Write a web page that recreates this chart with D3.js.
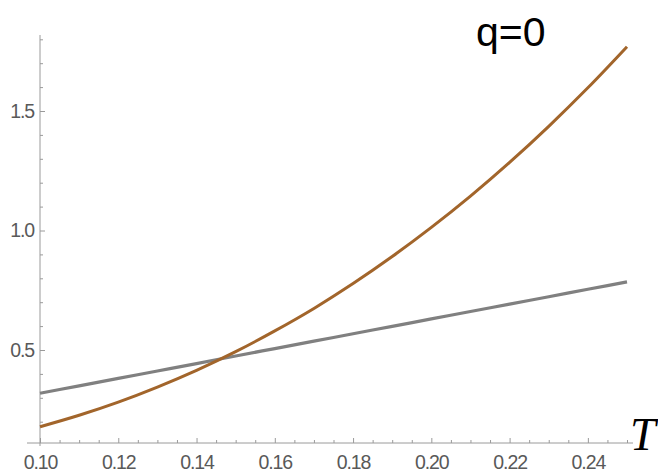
<!DOCTYPE html>
<html>
<head>
<meta charset="utf-8">
<script src="https://cdn.jsdelivr.net/npm/d3@7"></script>
<style>
  body { margin: 0; background: #fff; }
  svg { display: block; }
</style>
</head>
<body>
<svg id="chart"></svg>
<script>
// values
const tValues = [0.10, 0.11, 0.12, 0.13, 0.14, 0.15, 0.16, 0.17, 0.18, 0.19, 0.20, 0.21, 0.22, 0.23, 0.24, 0.25];
const grayValues = [0.319, 0.350, 0.381, 0.412, 0.443, 0.475, 0.506, 0.537, 0.568, 0.599, 0.630, 0.661, 0.692, 0.723, 0.754, 0.785];
const orangeValues = [0.179, 0.227, 0.282, 0.345, 0.415, 0.493, 0.580, 0.674, 0.778, 0.891, 1.013, 1.144, 1.285, 1.436, 1.597, 1.769];
const xTicks = [0.10, 0.12, 0.14, 0.16, 0.18, 0.20, 0.22, 0.24];
const yTicks = [0.5, 1.0, 1.5];
const title = 'q=0';
const xLabel = 'T';

const width = 658;
const height = 474;
const axisColor = '#9a9a9a';

const svg = d3.select('#chart')
  .attr('width', width)
  .attr('height', height);

//scales
const x = d3.scaleLinear().domain([0.10, 0.25]).range([40, 627]);
const y = d3.scaleLinear().domain([0.5, 1.5]).range([350, 111]);
const yBottom = 443;
const yTop = 35;

//minor ticks
const xMinor = d3.range(0.10, 0.2501, 0.005).filter(v => Math.abs(v * 50 - Math.round(v * 50)) > 1e-6);
const yMinor = d3.range(0.2, 1.81, 0.1).filter(v => Math.abs(v * 2 - Math.round(v * 2)) > 1e-6 && y(v) < yBottom);

const gx = svg.append('g').attr('transform', `translate(0,${yBottom})`);
gx.call(d3.axisBottom(x).tickValues(xTicks).tickFormat(d3.format('.2f')).tickSize(-5).tickPadding(12));
gx.select('.domain').remove();
gx.append('g').call(d3.axisBottom(x).tickValues(xMinor).tickFormat('').tickSize(-3))
  .select('.domain').remove();
gx.append('line')
  .attr('x1', x(0.10) - 13).attr('x2', x(0.25) + 6)
  .attr('stroke', axisColor);

const gy = svg.append('g').attr('transform', `translate(${x(0.10)},0)`);
gy.call(d3.axisLeft(y).tickValues(yTicks).tickFormat(d3.format('.1f')).tickSize(-5).tickPadding(6));
gy.select('.domain').remove();
gy.append('g').call(d3.axisLeft(y).tickValues(yMinor).tickFormat('').tickSize(-3))
  .select('.domain').remove();
gy.append('line')
  .attr('y1', yTop).attr('y2', yBottom + 3)
  .attr('stroke', axisColor);

svg.selectAll('.tick line').attr('stroke', axisColor);
svg.selectAll('.tick text')
  .style('font-family', '"Liberation Sans", Arial, sans-serif')
  .style('font-size', '19.5px')
  .style('letter-spacing', '-1.1px')
  .attr('fill', '#595959');

//curves
const line = vals => d3.line()
  .x((d, i) => x(tValues[i]))
  .y(d => y(d))
  .curve(d3.curveMonotoneX)(vals);

svg.append('path')
  .attr('d', line(grayValues))
  .attr('fill', 'none')
  .attr('stroke', '#808080')
  .attr('stroke-width', 3.2);

svg.append('path')
  .attr('d', line(orangeValues))
  .attr('fill', 'none')
  .attr('stroke', '#a2652b')
  .attr('stroke-width', 3);

//labels
svg.append('text')
  .attr('x', 476)
  .attr('y', 46)
  .style('font-family', '"Liberation Sans", Arial, sans-serif')
  .style('font-size', '41px')
  .attr('fill', '#000')
  .text(title);

svg.append('text')
  .attr('x', 630)
  .attr('y', 450)
  .style('font-family', '"Liberation Serif", "Times New Roman", serif')
  .style('font-style', 'italic')
  .style('font-size', '46px')
  .attr('fill', '#000')
  .text(xLabel);
</script>
</body>
</html>
